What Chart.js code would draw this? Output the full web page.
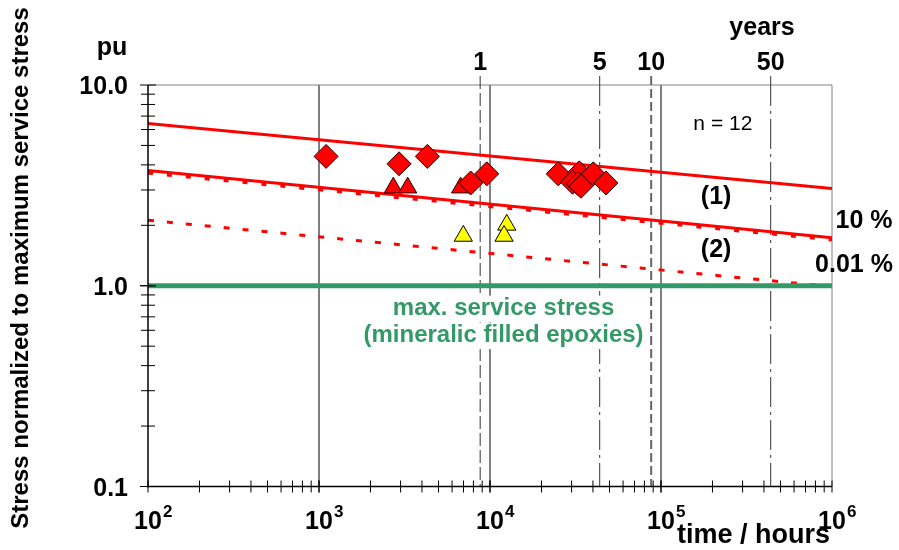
<!DOCTYPE html>
<html>
<head>
<meta charset="utf-8">
<script src="https://cdn.jsdelivr.net/npm/chart.js@4.4.1/dist/chart.umd.min.js"></script>
<style>
  body { margin: 0; background: #fff; }
  canvas { display: block; }
</style>
</head>
<body>
<canvas id="chart" width="899" height="550"></canvas>
<script>
const FONT = 'Liberation Sans, Arial, sans-serif';
const GREEN = '#339966';
const HOURS_PER_YEAR = 8760;

// time axis (hours) and stress axis (pu)
const xDecades = [100, 1000, 10000, 100000, 1000000];
const yTickValues = [0.1, 1, 10];
const yTickLabels = ['0.1', '1.0', '10.0'];
const yearMarks = [1, 5, 10, 50];

// fitted lines, values at 10^2 h and 10^6 h
const lineHours = [100, 1000000];
const line10Upper = [6.43, 3.05];
const line10Lower = [3.75, 1.735];
const line1Dotted = [3.66, 1.70];
const line2Dashed = [2.12, 0.99];
const serviceStress = [1.0, 1.0];

// test results
const diamondHours = [1100, 2940, 4300, 7710, 9570, 25060, 33270, 40180, 30390, 32800, 34040, 47650];
const diamondStress = [4.41, 4.05, 4.41, 3.25, 3.61, 3.61, 3.65, 3.61, 3.28, 3.22, 3.13, 3.25];
const redTriHours = [2720, 3300, 6730];
const redTriStress = [3.08, 3.08, 3.08];
const yellowTriHours = [6980, 12530, 12080];
const yellowTriStress = [1.77, 2.01, 1.77];

function pts(xs, ys) { return xs.map((x, i) => ({ x, y: ys[i] })); }

function lineSet(values, color, width, dash, order) {
  return {
    data: pts(lineHours, values), showLine: true, pointRadius: 0,
    borderColor: color, borderWidth: width, borderDash: dash,
    borderCapStyle: 'butt', order
  };
}

function text(ctx, str, x, y, size, bold, align, baseline, color, bg) {
  ctx.save();
  ctx.font = (bold ? 'bold ' : '') + size + 'px ' + FONT;
  ctx.textAlign = align;
  ctx.textBaseline = baseline;
  if (bg) {
    const w = ctx.measureText(str).width;
    ctx.fillStyle = bg;
    ctx.fillRect(x - w / 2 - 2, y - size * 0.55, w + 4, size * 1.1);
  }
  ctx.fillStyle = color || '#000';
  ctx.fillText(str, x, y);
  ctx.restore();
}

function vline(ctx, x, y1, y2, color, width, dash) {
  ctx.save();
  ctx.strokeStyle = color;
  ctx.lineWidth = width;
  ctx.setLineDash(dash || []);
  ctx.beginPath();
  ctx.moveTo(x, y1);
  ctx.lineTo(x, y2);
  ctx.stroke();
  ctx.restore();
}

function hline(ctx, y, x1, x2, color, width) {
  ctx.save();
  ctx.strokeStyle = color;
  ctx.lineWidth = width;
  ctx.beginPath();
  ctx.moveTo(x1, y);
  ctx.lineTo(x2, y);
  ctx.stroke();
  ctx.restore();
}

const yearStyles = {
  1: { color: '#333', width: 1, dash: [13, 4] },
  5: { color: '#333', width: 1, dash: [30, 5, 3, 5] },
  10: { color: '#666', width: 2, dash: [9, 4] },
  50: { color: '#333', width: 1, dash: [30, 5, 3, 5] }
};

const framePlugin = {
  id: 'frame',
  beforeDatasetsDraw(chart) {
    const { ctx, chartArea: a, scales: { x, y } } = chart;
    // decade grid lines
    vline(ctx, x.getPixelForValue(1000), a.top, a.bottom, '#000', 1);
    vline(ctx, x.getPixelForValue(10000), a.top, a.bottom, '#808080', 2);
    vline(ctx, x.getPixelForValue(100000), a.top, a.bottom, '#000', 1);
    // frame top / right
    hline(ctx, a.top, a.left, a.right, '#808080', 1);
    vline(ctx, a.right, a.top, a.bottom, '#808080', 1);
    // year marks
    for (const yr of yearMarks) {
      const s = yearStyles[yr];
      const px = x.getPixelForValue(yr * HOURS_PER_YEAR);
      vline(ctx, px, a.top - 9, a.bottom, s.color, s.width, s.dash);
      text(ctx, String(yr), px, a.top - 15, 25, true, 'center', 'alphabetic');
    }
    // service stress label sits on a white box over the grid
    const lx = x.getPixelForValue(12000);
    text(ctx, 'max. service stress', lx, y.getPixelForValue(0.768), 24, true, 'center', 'middle', GREEN, '#fff');
    text(ctx, '(mineralic filled epoxies)', lx, y.getPixelForValue(0.563), 24, true, 'center', 'middle', GREEN, '#fff');
    text(ctx, 'n = 12', x.getPixelForValue(230000), y.getPixelForValue(6.35), 21, false, 'center', 'middle', '#000', '#fff');
  },
  afterDatasetsDraw(chart) {
    const { ctx, chartArea: a, scales: { x, y } } = chart;
    // axes
    vline(ctx, a.left, a.top, a.bottom + 1, '#000', 1.5);
    hline(ctx, a.bottom, a.left - 1, a.right, '#000', 1.5);

    // y ticks
    for (let d = 0.1; d < 10; d *= 10) {
      for (let m = 1; m <= 10; m++) {
        const py = y.getPixelForValue(d * m);
        const major = m === 1 || m === 10;
        hline(ctx, py, a.left - (major ? 8 : 7), a.left + (major ? 8 : 7), '#000', 1);
      }
    }
    yTickValues.forEach((v, i) => {
      text(ctx, yTickLabels[i], a.left - 20, y.getPixelForValue(v) + 9, 25, true, 'right', 'alphabetic');
    });

    // x ticks
    for (let d = 100; d < 1000000; d *= 10) {
      for (let m = 1; m <= 10; m++) {
        const px = x.getPixelForValue(d * m);
        vline(ctx, px, a.bottom - 6, a.bottom + 6, '#000', 1);
      }
    }
    xDecades.forEach(v => {
      const px = x.getPixelForValue(v);
      const exp = String(Math.round(Math.log10(v)));
      ctx.save();
      ctx.font = 'bold 25px ' + FONT;
      const w = ctx.measureText('10').width;
      ctx.restore();
      text(ctx, '10', px, a.bottom + 42, 25, true, 'center', 'alphabetic');
      text(ctx, exp, px + w / 2 + 1, a.bottom + 30, 17, true, 'left', 'alphabetic');
    });

    // axis titles
    text(ctx, 'pu', 112, 55, 25, true, 'center', 'alphabetic');
    text(ctx, 'years', 762, 35, 25, true, 'center', 'alphabetic');
    text(ctx, 'time / hours', a.right - 2, a.bottom + 56, 27, true, 'right', 'alphabetic');
    ctx.save();
    ctx.translate(28, 268);
    ctx.rotate(-Math.PI / 2);
    text(ctx, 'Stress normalized to maximum service stress', 0, 0, 24, true, 'center', 'alphabetic');
    ctx.restore();

    // curve labels
    text(ctx, '(1)', x.getPixelForValue(210000), y.getPixelForValue(2.75), 25, true, 'center', 'middle');
    text(ctx, '(2)', x.getPixelForValue(210000), y.getPixelForValue(1.51), 25, true, 'center', 'middle');

    // percentile labels right of the plot
    text(ctx, '10 %', a.right + 32, y.getPixelForValue(line10Lower[1]) - 17, 25, true, 'center', 'middle');
    text(ctx, '0.01 %', a.right + 22, y.getPixelForValue(line2Dashed[1]) - 22, 25, true, 'center', 'middle');
  }
};

new Chart(document.getElementById('chart'), {
  type: 'scatter',
  data: {
    datasets: [
      {
        data: pts(diamondHours, diamondStress), pointStyle: 'rectRot', pointRadius: 12,
        backgroundColor: '#ff0000', borderColor: '#200000', borderWidth: 1, order: 0
      },
      {
        data: pts(redTriHours, redTriStress), pointStyle: 'triangle', pointRadius: 10.5,
        backgroundColor: '#ff0000', borderColor: '#200000', borderWidth: 1, order: 1
      },
      {
        data: pts(yellowTriHours, yellowTriStress), pointStyle: 'triangle', pointRadius: 10.5,
        backgroundColor: '#ffff00', borderColor: '#000', borderWidth: 1, order: 1
      },
      lineSet(serviceStress, GREEN, 5, [], 2),
      lineSet(line10Upper, '#ff0000', 3, [], 3),
      lineSet(line10Lower, '#ff0000', 3, [], 3),
      lineSet(line1Dotted, '#ff0000', 4, [5, 14], 4),
      lineSet(line2Dashed, '#ff0000', 3, [6, 13], 4)
    ]
  },
  options: {
    responsive: false,
    animation: false,
    layout: { padding: { left: 148, right: 67, top: 85, bottom: 63.5 } },
    plugins: { legend: { display: false }, tooltip: { enabled: false } },
    scales: {
      x: { type: 'logarithmic', min: 100, max: 1000000, display: false },
      y: { type: 'logarithmic', min: 0.1, max: 10, display: false }
    }
  },
  plugins: [framePlugin]
});
</script>
</body>
</html>
